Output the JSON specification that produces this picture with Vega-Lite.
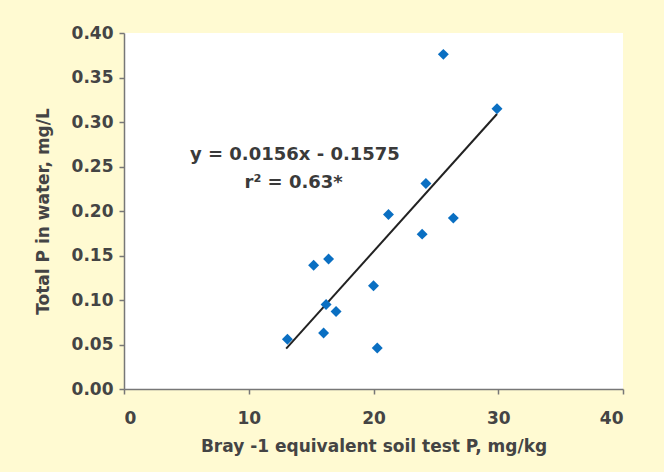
{
  "$schema": "https://vega.github.io/schema/vega-lite/v6.json",
  "width": 499,
  "height": 356,
  "autosize": {"type": "none"},
  "padding": {"left": 124, "top": 33, "right": 41, "bottom": 83},
  "background": "#fffad2",
  "view": {"fill": "white", "stroke": null},
  "config": {
    "font": "DejaVu Sans",
    "axis": {
      "grid": false,
      "domainColor": "#777777",
      "domainWidth": 1.5,
      "tickColor": "#777777",
      "tickWidth": 1.5,
      "tickSize": 5,
      "labelFont": "DejaVu Sans",
      "labelFontSize": 17,
      "labelFontWeight": "bold",
      "labelColor": "#444444",
      "titleFont": "DejaVu Sans",
      "titleFontSize": 17,
      "titleFontWeight": "bold",
      "titleColor": "#444444"
    }
  },
  "datasets": {
    "points": [
      {"soilP": 25.6, "waterP": 0.376},
      {"soilP": 29.9, "waterP": 0.315},
      {"soilP": 24.2, "waterP": 0.231},
      {"soilP": 21.2, "waterP": 0.196},
      {"soilP": 26.4, "waterP": 0.192},
      {"soilP": 23.9, "waterP": 0.174},
      {"soilP": 15.2, "waterP": 0.139},
      {"soilP": 16.4, "waterP": 0.146},
      {"soilP": 20.0, "waterP": 0.116},
      {"soilP": 16.2, "waterP": 0.095},
      {"soilP": 17.0, "waterP": 0.087},
      {"soilP": 13.1, "waterP": 0.056},
      {"soilP": 16.0, "waterP": 0.063},
      {"soilP": 20.3, "waterP": 0.046}
    ],
    "fit": [
      {"soilP": 13.0, "waterP": 0.0453},
      {"soilP": 29.9, "waterP": 0.309}
    ],
    "notes": [
      {"soilP": 13.7, "waterP": 0.263, "label": "y = 0.0156x - 0.1575"},
      {"soilP": 13.6, "waterP": 0.231, "label": "r² = 0.63*"}
    ]
  },
  "layer": [
    {
      "data": {"name": "fit"},
      "mark": {"type": "line", "color": "#222222", "strokeWidth": 2},
      "encoding": {
        "x": {"field": "soilP", "type": "quantitative", "scale": {"domain": [0, 40]},
              "axis": {"values": [0, 10, 20, 30, 40], "title": "Bray -1 equivalent soil test P, mg/kg", "labelPadding": 16, "titlePadding": 12}},
        "y": {"field": "waterP", "type": "quantitative", "scale": {"domain": [0, 0.4]},
              "axis": {"values": [0, 0.05, 0.1, 0.15, 0.2, 0.25, 0.3, 0.35, 0.4], "format": ".2f", "title": "Total P in water, mg/L", "labelPadding": 6, "titlePadding": 19}}
      }
    },
    {
      "data": {"name": "points"},
      "mark": {"type": "point", "shape": "diamond", "filled": true, "size": 120, "color": "#0a6fc2", "opacity": 1},
      "encoding": {
        "x": {"field": "soilP", "type": "quantitative"},
        "y": {"field": "waterP", "type": "quantitative"}
      }
    },
    {
      "data": {"name": "notes"},
      "mark": {"type": "text", "fontSize": 18, "fontWeight": "bold", "color": "#3a3a3a", "align": "center", "baseline": "middle"},
      "encoding": {
        "x": {"field": "soilP", "type": "quantitative"},
        "y": {"field": "waterP", "type": "quantitative"},
        "text": {"field": "label"}
      }
    }
  ]
}
